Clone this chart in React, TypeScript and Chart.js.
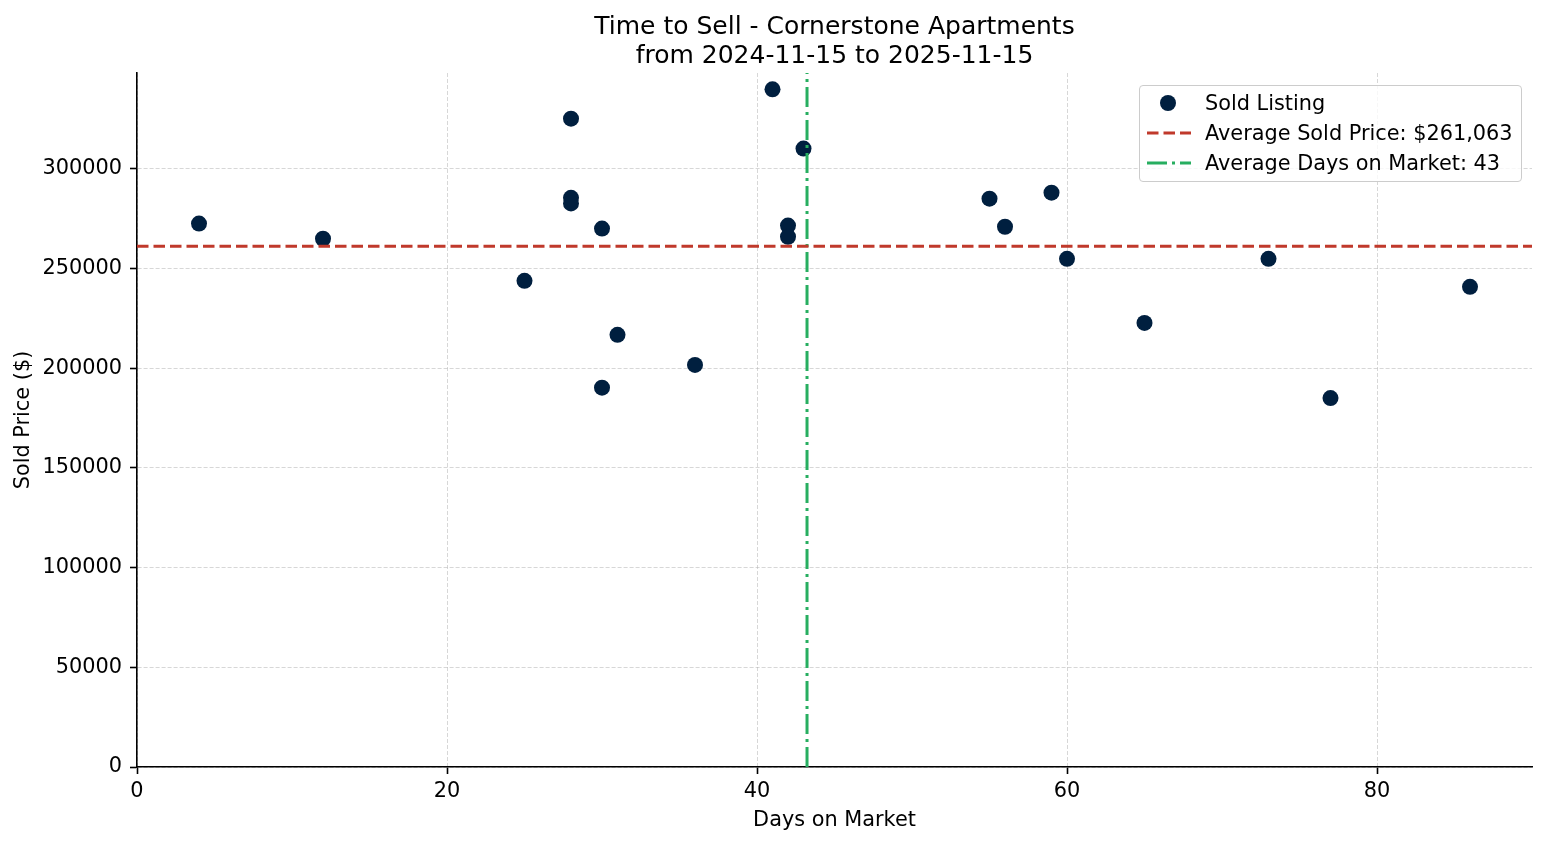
import { useEffect, useRef } from "react";
import { Chart, registerables } from "chart.js";
import type { ChartConfiguration } from "chart.js";

Chart.register(...registerables);

// sold listings
const daysOnMarket = [4, 12, 25, 28, 28, 28, 30, 30, 31, 36, 41, 42, 42, 43, 55, 56, 59, 60, 65, 73, 77, 86];
const soldPrices = [
  272500, 264900, 243800, 325100, 285400, 282600, 270000, 190200, 216700, 201600, 339800,
  271500, 265900, 310100, 285000, 270900, 288000, 254800, 222700, 254800, 185000, 240800,
];
const avgSoldPrice = 261063; // as printed in the legend
const avgDays = daysOnMarket.reduce((a, b) => a + b, 0) / daysOnMarket.length;

const xTicks = [0, 20, 40, 60, 80];
const yTicks = [0, 50000, 100000, 150000, 200000, 250000, 300000];
const X_MAX = 90;
const Y_MAX = 348000;

const NAVY = "#001f3f";
const RED = "#c0392b";
const GREEN = "#27ae60";
const FONT = "DejaVu Sans";
const TICK_SIZE = 20.83;
const TITLE_SIZE = 25;

const priceLabel = "$" + avgSoldPrice.toLocaleString("en-US");

export default function App() {
  const canvasRef = useRef<HTMLCanvasElement>(null);

  useEffect(() => {
    if (!canvasRef.current) return;
    Chart.defaults.font.family = FONT;

    const gridOpts = {
      color: "rgba(176,176,176,0.5)",
      lineWidth: 1,
      tickColor: "#000",
      tickLength: 7,
      tickWidth: 1.6,
    };
    const borderOpts = { color: "#000", width: 1.6, dash: [4, 2] };

    const config: ChartConfiguration<"scatter"> = {
      type: "scatter",
      data: {
        datasets: [
          {
            label: "Average Sold Price",
            data: [
              { x: 0, y: avgSoldPrice },
              { x: X_MAX, y: avgSoldPrice },
            ],
            showLine: true,
            borderColor: RED,
            borderWidth: 3,
            borderDash: [11.5, 5],
            pointRadius: 0,
            order: 1,
          },
          {
            label: "Average Days on Market",
            data: [
              { x: avgDays, y: 0 },
              { x: avgDays, y: Y_MAX },
            ],
            showLine: true,
            borderColor: GREEN,
            borderWidth: 3,
            borderDash: [20, 5, 3, 5],
            pointRadius: 0,
            order: 1,
          },
          {
            label: "Sold Listing",
            data: daysOnMarket.map((d, i) => ({ x: d, y: soldPrices[i] })),
            backgroundColor: NAVY,
            borderWidth: 0,
            pointRadius: 8,
            order: 2,
          },
        ],
      },
      options: {
        responsive: false,
        animation: false,
        layout: { padding: { top: 73, right: 15, left: 0, bottom: 0 } },
        plugins: {
          legend: { display: false },
          tooltip: { enabled: false },
        },
        scales: {
          x: {
            type: "linear",
            min: 0,
            max: X_MAX,
            afterFit: (s) => {
              s.height = 78;
            },
            afterBuildTicks: (s) => {
              s.ticks = xTicks.map((v) => ({ value: v }));
            },
            ticks: {
              color: "#000",
              padding: 5,
              font: { size: TICK_SIZE },
              callback: (v) => String(v),
            },
            grid: gridOpts,
            border: borderOpts,
            title: {
              display: true,
              text: "Days on Market",
              color: "#000",
              font: { size: TICK_SIZE },
              padding: { top: 0, bottom: 12 },
            },
          },
          y: {
            type: "linear",
            min: 0,
            max: Y_MAX,
            afterFit: (s) => {
              s.width = 137;
            },
            afterBuildTicks: (s) => {
              s.ticks = yTicks.map((v) => ({ value: v }));
            },
            ticks: {
              color: "#000",
              padding: 8,
              font: { size: TICK_SIZE },
              callback: (v) => String(v),
            },
            grid: gridOpts,
            border: borderOpts,
            title: {
              display: true,
              text: "Sold Price ($)",
              color: "#000",
              font: { size: TICK_SIZE },
              padding: { top: 11, bottom: 0 },
            },
          },
        },
      },
    };

    const chart = new Chart(canvasRef.current, config);
    return () => chart.destroy();
  }, []);

  const titleLine = (text: string, top: number) => (
    <div
      style={{
        position: "absolute",
        left: 137,
        width: 1395,
        top,
        textAlign: "center",
        fontSize: TITLE_SIZE,
        lineHeight: "28px",
        color: "#000",
        whiteSpace: "nowrap",
      }}
    >
      {text}
    </div>
  );

  const legendRows = [
    { label: "Sold Listing", kind: "dot" },
    { label: `Average Sold Price: ${priceLabel}`, kind: "dash" },
    { label: `Average Days on Market: ${Math.round(avgDays)}`, kind: "dashdot" },
  ];
  const rowCenters = [16.7, 46.7, 77.3];

  return (
    <div
      style={{
        position: "absolute",
        left: 0,
        top: 0,
        width: 1547,
        height: 845,
        background: "#fff",
        fontFamily: FONT,
        overflow: "hidden",
      }}
    >
      <canvas ref={canvasRef} width={1547} height={845} />
      {titleLine("Time to Sell - Cornerstone Apartments", 12.35)}
      {titleLine("from 2024-11-15 to 2025-11-15", 40.65)}
      <div
        style={{
          position: "absolute",
          left: 1139,
          top: 85,
          width: 383,
          height: 97,
          boxSizing: "border-box",
          border: "1px solid #cccccc",
          borderRadius: 4,
          background: "rgba(255,255,255,0.8)",
        }}
      >
        {legendRows.map((r, i) => (
          <div key={r.label}>
            <svg
              style={{ position: "absolute", left: 0, top: rowCenters[i] - 10 }}
              width={56}
              height={20}
            >
              {r.kind === "dot" && <circle cx={28} cy={10} r={8} fill={NAVY} />}
              {r.kind === "dash" && (
                <line x1={7} y1={10} x2={51} y2={10} stroke={RED} strokeWidth={3} strokeDasharray="11.5 5" />
              )}
              {r.kind === "dashdot" && (
                <line x1={7} y1={10} x2={51} y2={10} stroke={GREEN} strokeWidth={3} strokeDasharray="20 5 3 5" />
              )}
            </svg>
            <div
              style={{
                position: "absolute",
                left: 65,
                top: rowCenters[i] - 15,
                height: 30,
                lineHeight: "30px",
                fontSize: TICK_SIZE,
                color: "#000",
                whiteSpace: "nowrap",
              }}
            >
              {r.label}
            </div>
          </div>
        ))}
      </div>
    </div>
  );
}
